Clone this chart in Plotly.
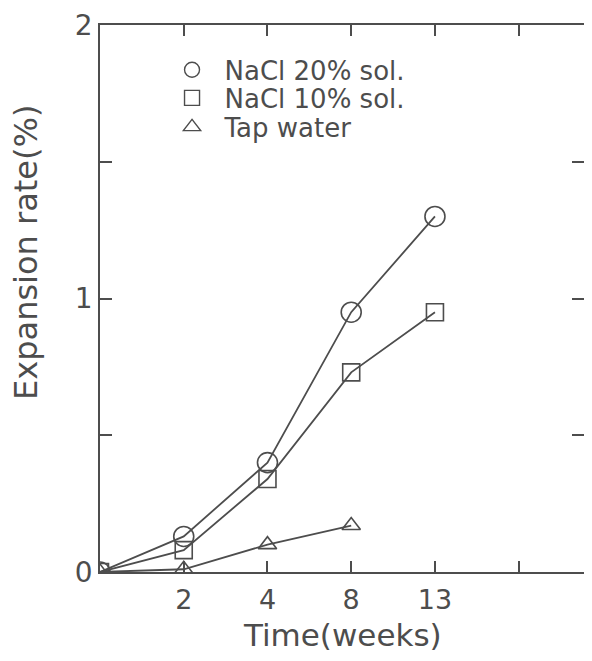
import plotly.graph_objects as go

weeks = ["0", "2", "4", "8", "13"]
x_pos = [0, 1, 2, 3, 4]
nacl20 = [0.0, 0.13, 0.40, 0.95, 1.30]
nacl10 = [0.0, 0.08, 0.34, 0.73, 0.95]
tap = [0.0, 0.01, 0.10, 0.17]
series_names = ["NaCl 20% sol.", "NaCl 10% sol.", "Tap water"]

ink = "#4d4d4d"
fontfam = "DejaVu Sans, sans-serif"

fig = go.Figure()
symbols = ["circle-open", "square-open", "triangle-up-open"]
sizes = [20, 17, 16]
data = [nacl20, nacl10, tap]
legend_ids = ["legend", "legend2", "legend3"]
legend_y = [0.918, 0.8666, 0.8135]

for name, sym, sz, ys in zip(series_names, symbols, sizes, data):
    fig.add_trace(go.Scatter(
        x=x_pos[:len(ys)], y=ys, mode="lines+markers", showlegend=False,
        line=dict(color=ink, width=1.8),
        marker=dict(symbol=sym, size=sz, color=ink, line=dict(width=1.6, color=ink)),
    ))
for name, sym, lid in zip(series_names, symbols, legend_ids):
    fig.add_trace(go.Scatter(
        x=[None], y=[None], mode="markers", name=name, legend=lid,
        marker=dict(symbol=sym, size=15, color=ink, line=dict(width=1.4, color=ink)),
    ))

legend_common = dict(xanchor="left", yanchor="middle", bgcolor="rgba(0,0,0,0)",
                     font=dict(size=26, color=ink), itemsizing="trace",
                     itemwidth=55, x=0.123)

fig.update_layout(
    width=576, height=645,
    margin=dict(l=92, r=0, t=17, b=81),
    paper_bgcolor="white", plot_bgcolor="white",
    font=dict(family=fontfam, color=ink),
    legend=dict(y=legend_y[0], **legend_common),
    legend2=dict(y=legend_y[1], **legend_common),
    legend3=dict(y=legend_y[2], **legend_common),
    xaxis=dict(
        range=[0, 5.78], tickmode="array", tickvals=[1, 2, 3, 4, 5],
        ticktext=weeks[1:] + [""], ticks="inside", ticklen=11, tickwidth=1.5,
        tickcolor=ink, showline=True, linecolor=ink, linewidth=1.5, mirror="ticks",
        showgrid=False, zeroline=False, tickfont=dict(size=27, color=ink),
        automargin=False, ticklabelstandoff=3,
    ),
    yaxis=dict(
        range=[0, 2], tickmode="array", tickvals=[0, 0.5, 1, 1.5, 2],
        ticktext=["0", "", "1", "", "2"], ticks="inside", ticklen=12, tickwidth=1.5,
        tickcolor=ink, showline=True, linecolor=ink, linewidth=1.5, mirror="ticks",
        showgrid=False, zeroline=False, tickfont=dict(size=28, color=ink),
        automargin=False,
    ),
    annotations=[
        dict(text="Expansion rate(%)", textangle=-90, showarrow=False,
             xref="paper", yref="paper", x=-0.153, y=0.585,
             xanchor="center", yanchor="middle", font=dict(size=32, color=ink)),
        dict(text="Time(weeks)", showarrow=False,
             xref="paper", yref="paper", x=0.5, y=-0.116,
             xanchor="center", yanchor="middle", font=dict(size=31, color=ink)),
    ],
)

fig.write_html("out.html")
